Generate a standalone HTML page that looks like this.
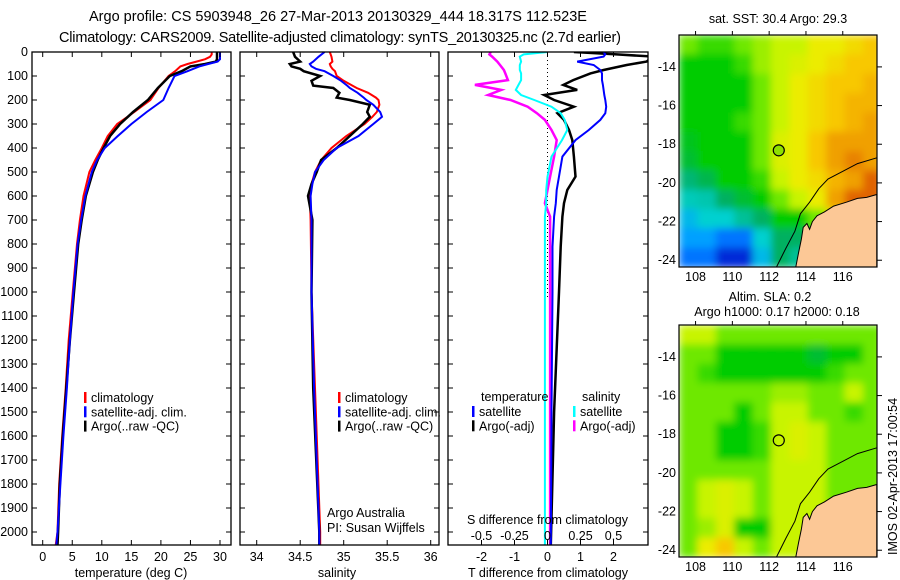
<!DOCTYPE html>
<html><head><meta charset="utf-8"><style>
html,body{margin:0;padding:0;background:#fff;width:900px;height:580px;overflow:hidden}
svg{display:block;font-family:"Liberation Sans",sans-serif;font-size:12.5px}
.ttl{font-size:14.5px}
</style></head><body>
<svg id="s" width="900" height="580">
<defs><filter id="blur" x="0" y="0" width="1" height="1"><feGaussianBlur stdDeviation="4" edgeMode="duplicate"/></filter></defs>
<text class="ttl" x="338" y="21" text-anchor="middle">Argo profile: CS 5903948_26 27-Mar-2013 20130329_444 18.317S 112.523E</text>
<text class="ttl" x="340" y="42" text-anchor="middle" textLength="562">Climatology: CARS2009. Satellite-adjusted climatology: synTS_20130325.nc (2.7d earlier)</text>
<text x="778" y="23" text-anchor="middle">sat. SST: 30.4 Argo: 29.3</text>
<text x="770" y="301" text-anchor="middle">Altim. SLA: 0.2</text>
<text x="777" y="316" text-anchor="middle">Argo h1000: 0.17 h2000: 0.18</text>
<text transform="translate(897,555) rotate(-90)">IMOS 02-Apr-2013 17:00:54</text>
</svg>
<script>
// ---- profile data ----
const depths = [0,10,20,30,40,50,60,80,100,150,200,250,300,350,400,450,500,600,700,800,1000,1200,1400,1600,1800,2000,2055];
const tempClim = [28.6,28.6,28.3,27.5,26,24.5,23.3,22.4,21.3,19.6,18.2,15.5,12.6,11,10,8.9,7.9,6.9,6.3,5.8,5.1,4.4,3.9,3.3,2.8,2.5,2.2];
const tempSat = [30,30,30,30,29.6,28,26.5,24.5,22.3,21.3,20.4,17.6,15,12.7,10.5,9.2,8.3,7.2,6.5,5.9,5.2,4.6,4.1,3.5,3.0,2.5,2.3];
const tempArgo = [29.5,29.5,29.5,29.5,29.3,27.5,25,23.5,21.5,19.5,17.8,15.3,13.1,11.4,10.3,9.3,8.5,7.3,6.6,6.0,5.3,4.6,4.0,3.4,2.9,2.6,2.5];
const salDepths = [0,20,40,50,60,70,80,100,120,140,150,170,190,200,220,250,270,300,350,400,450,500,550,600,700,1000,1400,2000,2055];
const salClim = [34.84,34.86,34.87,34.84,34.85,34.87,34.9,34.92,35.0,35.1,35.15,35.28,35.37,35.40,35.41,35.38,35.33,35.24,35.03,34.86,34.74,34.67,34.63,34.61,34.62,34.63,34.67,34.73,34.73];
const salSat = [34.78,34.71,34.65,34.61,34.63,34.68,34.78,34.88,34.97,35.04,35.07,35.16,35.23,35.26,35.34,35.42,35.44,35.34,35.17,34.92,34.77,34.67,34.64,34.62,34.63,34.63,34.66,34.72,34.72];
const salArgo = [34.42,34.44,34.50,34.38,34.40,34.50,34.54,34.73,34.63,34.65,34.88,34.95,34.92,35.07,35.30,35.27,35.30,35.22,35.07,34.92,34.74,34.69,34.63,34.59,34.64,34.63,34.65,34.72,34.72];
const diffDepths = [0,10,19,40,54,75,89,117,137,158,179,200,228,255,283,325,367,436,519,575,630,686,811,1000,1500,2055];
const dTSat = [1.7,1.75,1.7,0.9,1.4,1.6,1.65,1.65,1.68,1.7,1.72,1.75,1.78,1.75,1.6,1.25,0.85,0.45,0.35,0.28,0.25,0.2,0.15,0.15,0.12,0.1];
const dTArgo = [0.8,2.1,3.2,3.0,2.4,1.7,1.3,0.78,0.48,0.9,-0.1,0.2,0.8,0.3,0.5,0.65,0.75,0.8,0.85,0.6,0.5,0.45,0.4,0.35,0.2,0.1];
const dSSat = [0,-0.18,-0.21,-0.2,-0.21,-0.21,-0.2,-0.2,-0.22,-0.24,-0.2,-0.1,0.03,0.1,0.13,0.15,0.11,0.03,0.0,-0.01,-0.01,-0.02,-0.02,-0.02,-0.02,-0.02];
const dSArgo = [-0.43,-0.44,-0.42,-0.38,-0.36,-0.33,-0.32,-0.3,-0.55,-0.35,-0.45,-0.28,-0.15,-0.08,-0.02,0.03,0.07,0.05,0.02,0.0,-0.02,0.02,0.02,0.02,0.02,0.02];
const depthTicks = [0,100,200,300,400,500,600,700,800,900,1000,1100,1200,1300,1400,1500,1600,1700,1800,1900,2000];
const tempTicks = [0,5,10,15,20,25,30];
const salTicks = [34,34.5,35,35.5,36];
const dTTicks = [-2,-1,0,1,2];
const dSTicks = [-0.5,-0.25,0,0.25,0.5];
// ---- map data (1-degree cells, rows from north, colour index) ----
const mapLons = [107.1,108.1,109.1,110.1,111.1,112.1,113.1,114.1,115.1,116.1,117.1];
const mapLats = [-12.35,-13.35,-14.35,-15.35,-16.35,-17.35,-18.35,-19.35,-20.35,-21.35,-22.35,-23.35];
const sstGrid = [
[6,5.5,5.5,6,6.5,7,7,8,8,8.5,9],
[5,5,5,5.5,6.5,7,7.5,8,8.5,9,9],
[5,5,5,5,6,7,8,8.5,9,9,9.5],
[5,5,5,5,6,7,8,8.5,9,9.5,9.5],
[5,5,5,5.5,6,7,8,8.5,9,9.5,10],
[4.7,5,5,5,6,7.5,8,9,10,10,10],
[4.5,5,5,5,6,7.5,8,9,10,10.5,10],
[3.8,4.2,5,5,5.5,7,8,8.5,9.5,10,11],
[3.2,3.3,4,4.5,5,6,7,8,10,11,11],
[2.5,3,3,3.5,4,5,5,6,8,9,9],
[2,2,1.5,1.5,3,4,4,5,5,5,5],
[1.5,1.5,0.5,0.5,2.5,4,3.5,4,4,4,4]];
const slaGrid = [
[7,7,6,6,6,6,6,6,6,6,6],
[6,6,5,5,5,5,5,4.5,5,5,6],
[6,5.5,5,5,5,5,5,5,5.5,6,6],
[6,6,6,6,6,6.5,6.5,6,6,7,6],
[6,6,6,5,6,7,7,6,6,5.5,6],
[6,6,5,5,5.5,7,7.5,7,6,6,6],
[6,6,5,5,5.5,7,7.5,7,6,6,6],
[6,6,6,6,6,7,7,7,6,6,6],
[6,7,7.5,7,6,7,7,7,6,6,6],
[6,7,7.5,7,6,7,7,7,6,6,6],
[6,6.5,7.5,5,5,7,7,6.5,6,6,6],
[6,8,9,7,6,7,7,6.5,6,6,6]];
const landLon = [113.45,113.6,113.75,113.85,114.05,114.2,114.35,114.6,115.0,115.5,116.2,116.8,117.3,117.85,117.85,113.45];
const landLat = [-24.35,-23.6,-22.9,-22.3,-22.1,-22.4,-22.0,-21.7,-21.5,-21.2,-21.0,-20.8,-20.75,-20.6,-24.35,-24.35];
const contourLon = [112.4,112.9,113.4,113.7,114.2,114.7,115.2,116.0,116.8,117.85];
const contourLat = [-24.35,-23.4,-22.5,-21.6,-21.0,-20.3,-19.8,-19.4,-19.0,-18.7];
const argoLon = 112.523, argoLat = -18.317;

const NS='http://www.w3.org/2000/svg';
const svg=document.getElementById('s');
function el(tag,attrs,parent){const e=document.createElementNS(NS,tag);for(const k in attrs)e.setAttribute(k,attrs[k]);(parent||svg).appendChild(e);return e;}
function txt(x,y,s,anchor,parent){const t=el('text',{x:x,y:y,'text-anchor':anchor||'start'},parent);t.textContent=s;return t;}

const yTop=52, pxPerM=0.24, yBot=545;
const yD=d=>yTop+d*pxPerM;
const xT=t=>42.7+t*5.91;
const xS=s=>256.7+(s-34)*87;
const xdT=t=>547.5+t*33;
const xdS=s=>547.5+s*132;

function panel(x0,x1,name){
  const g=el('g',{});
  
  
  const c=el('clipPath',{id:'c'+name},g);el('rect',{x:x0,y:yTop,width:x1-x0,height:yBot-yTop},c);
  const inner=el('g',{'clip-path':'url(#c'+name+')'},g);
  return {g,inner,x0,x1};
}
function frame(p){
  el('rect',{x:p.x0,y:yTop,width:p.x1-p.x0,height:yBot-yTop,fill:'none',stroke:'#000','stroke-width':1.3},p.g);
  depthTicks.forEach(d=>{
    el('line',{x1:p.x0,x2:p.x0+5,y1:yD(d),y2:yD(d),stroke:'#000'},p.g);
    el('line',{x1:p.x1,x2:p.x1-5,y1:yD(d),y2:yD(d),stroke:'#000'},p.g);
  });
}
function line(p,xs,ys,xf,color,w,name){
  const pts=xs.map((v,i)=>xf(v).toFixed(1)+','+yD(ys[i]).toFixed(1)).join(' ');
  const l=el('polyline',{points:pts,fill:'none',stroke:color,'stroke-width':w||2},p.inner);
  
  
}
function xticks(p,ticks,xf,ylab){
  ticks.forEach(t=>{
    el('line',{x1:xf(t),x2:xf(t),y1:yTop,y2:yTop+5,stroke:'#000'},p.g);
    el('line',{x1:xf(t),x2:xf(t),y1:yBot,y2:yBot-5,stroke:'#000'},p.g);
    if(ylab)txt(xf(t),ylab,String(t),'middle',p.g);
  });
}
function legend(p,x,y,items){
  items.forEach((it,i)=>{
    const gg=el('g',{},p.g);
    
    
    el('rect',{x:x,y:y+i*14.3-10,width:2.5,height:11,fill:it[0]},gg);
    txt(x+7,y+i*14.3,it[1],'start',gg);
  });
}

depthTicks.forEach(d=>{const t=txt(28,yD(d)+4,String(d),'end');});

const p1=panel(32,231,'temperature-panel');
line(p1,tempClim,depths,xT,'#f00',2,'temp-climatology-line');
line(p1,tempArgo,depths,xT,'#000',2.5,'temp-argo-line');
line(p1,tempSat,depths,xT,'#00f',2,'temp-satellite-line');
frame(p1);xticks(p1,tempTicks,xT,561);
txt(131,577,'temperature (deg C)','middle',p1.g);
legend(p1,84,402,[['#f00','climatology','clim'],['#00f','satellite-adj. clim.','sat'],['#000','Argo(..raw -QC)','argo']]);

const p2=panel(240,439,'salinity-panel');
line(p2,salClim,salDepths,xS,'#f00',2,'sal-climatology-line');
line(p2,salArgo,salDepths,xS,'#000',2.5,'sal-argo-line');
line(p2,salSat,salDepths,xS,'#00f',2,'sal-satellite-line');
frame(p2);xticks(p2,salTicks,xS,561);
txt(337,577,'salinity','middle',p2.g);
legend(p2,338,402,[['#f00','climatology','clim'],['#00f','satellite-adj. clim.','sat'],['#000','Argo(..raw -QC)','argo']]);
txt(327,517,'Argo Australia','start',p2.g);
txt(327,532,'PI: Susan Wijffels','start',p2.g);

const p3=panel(448,648,'difference-panel');
el('line',{x1:xdT(0),x2:xdT(0),y1:yTop,y2:300,stroke:'#000','stroke-dasharray':'1,3'},p3.inner);
line(p3,dSArgo,diffDepths,xdS,'#f0f',2.5,'sal-diff-argo-line');
line(p3,dTArgo,diffDepths,xdT,'#000',2.5,'temp-diff-argo-line');
line(p3,dTSat,diffDepths,xdT,'#00f',2,'temp-diff-satellite-line');
line(p3,dSSat,diffDepths,xdS,'#0ff',2,'sal-diff-satellite-line');
frame(p3);xticks(p3,dTTicks,xdT,561);
dSTicks.forEach(s=>txt(xdS(s),540,String(s),'middle',p3.g));
txt(548,577,'T difference from climatology','middle',p3.g);
txt(467,524,'S difference from climatology','start',p3.g);
txt(481,401,'temperature','start',p3.g);
txt(582,401,'salinity','start',p3.g);
legend(p3,472,416,[['#00f','satellite','tsat'],['#000','Argo(-adj)','targo']]);
legend(p3,573,416,[['#0ff','satellite','ssat'],['#f0f','Argo(-adj)','sargo']]);

// ---- maps ----
const stops=[[0,[0,16,176]],[1,[0,72,255]],[2,[0,160,255]],[3,[0,208,208]],[4,[0,176,96]],[5,[0,204,0]],[6,[110,232,0]],[7,[200,244,0]],[8,[236,236,0]],[9,[248,200,0]],[10,[240,160,0]],[11,[224,100,0]]];
function cmap(v){
  for(let i=0;i<stops.length-1;i++){if(v<=stops[i+1][0]){const f=(v-stops[i][0]);const a=stops[i][1],b=stops[i+1][1];return 'rgb('+a.map((c,k)=>Math.round(c+(b[k]-c)*f)).join(',')+')';}}
  return 'rgb('+stops[stops.length-1][1].join(',')+')';
}
function drawMap(y0,y1,grid,name,circleFill){
  const x0=679,x1=877;
  const lx=lon=>x0+(lon-107.1)*18.4;
  const ly=lat=>y0+(-12.35-lat)*((y1-y0)/12);
  const g=el('g',{});
  
  
  const cp=el('clipPath',{id:'cp'+name},g);el('rect',{x:x0,y:y0,width:x1-x0,height:y1-y0},cp);
  const inner=el('g',{'clip-path':'url(#cp'+name+')'},g);
  const cells=el('g',{filter:'url(#blur)'},inner);
  grid.forEach((row,r)=>row.forEach((v,c)=>{
    const cell=el('rect',{x:lx(mapLons[c]).toFixed(1),y:ly(mapLats[r]).toFixed(1),width:19.4,height:((y1-y0)/12+1).toFixed(1),fill:cmap(v)},cells);
    
    
  }));
  const land=el('polygon',{points:landLon.map((v,i)=>lx(v).toFixed(1)+','+ly(landLat[i]).toFixed(1)).join(' '),fill:'#fcc896',stroke:'#000','stroke-width':1},inner);
  
  
  el('polyline',{points:contourLon.map((v,i)=>lx(v).toFixed(1)+','+ly(contourLat[i]).toFixed(1)).join(' '),fill:'none',stroke:'#000','stroke-width':1},inner);
  const m=el('circle',{cx:lx(argoLon),cy:ly(argoLat),r:5.5,fill:circleFill,stroke:'#000','stroke-width':1.2},g);
  
  
  el('rect',{x:x0,y:y0,width:x1-x0,height:y1-y0,fill:'none',stroke:'#000','stroke-width':1.2},g);
  [108,110,112,114,116].forEach(lon=>{
    el('line',{x1:lx(lon),x2:lx(lon),y1:y0,y2:y0-4,stroke:'#000'},g);
    txt(lx(lon),y1+14,String(lon),'middle',g);
  });
  [-14,-16,-18,-20,-22,-24].forEach(lat=>{
    el('line',{x1:x1,x2:x1+5,y1:ly(lat),y2:ly(lat),stroke:'#000'},g);
    txt(x0-3,ly(lat)+4,String(lat),'end',g);
  });
}
drawMap(35,267,sstGrid,'sst-map','#8ee000');
drawMap(325,557,slaGrid,'sla-map','none');
</script>
</body></html>
